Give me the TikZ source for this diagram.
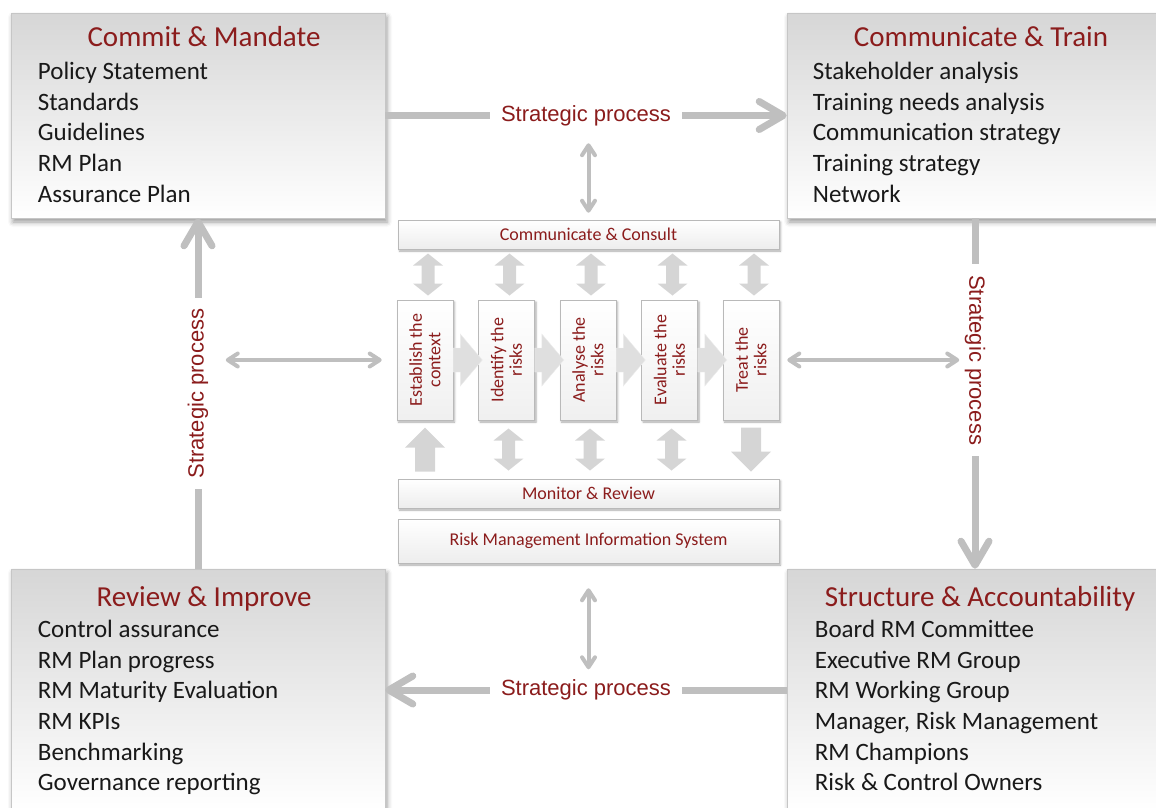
\documentclass[tikz,border=0pt]{standalone}
\usepackage{fontspec}
\setmainfont{Carlito}
\newfontfamily\arialfont{Liberation Sans}
\usetikzlibrary{arrows.meta,calc,shadows.blur}
\definecolor{rmred}{HTML}{8B1C1C}
\tikzset{
  corner/.style={draw=gray!45, line width=0.6pt, top color=gray!32, bottom color=white, inner sep=0pt,
    blur shadow={shadow xshift=2pt, shadow yshift=-4pt, shadow blur radius=5pt, shadow opacity=40}},
  title/.style={anchor=base, text=rmred, font=\fontsize{29}{34}\selectfont},
  item/.style={anchor=base west, inner sep=0pt, text=black!90, font=\fontsize{25}{30}\selectfont},
  bar/.style={draw=gray!55, line width=0.6pt, top color=white, bottom color=gray!14, minimum width=381pt,
    text=rmred, font=\fontsize{18}{20}\selectfont,
    blur shadow={shadow xshift=1.5pt, shadow yshift=-2pt, shadow blur radius=2pt, shadow opacity=35}},
  pbox/.style={draw=gray!55, line width=0.6pt, top color=white, bottom color=gray!12, minimum width=56pt, minimum height=120pt,
    blur shadow={shadow xshift=1.5pt, shadow yshift=-2pt, shadow blur radius=2pt, shadow opacity=35}},
  ptext/.style={text=rmred, align=center, font=\fontsize{18}{18.5}\selectfont},
  chev/.style={fill=gray!25, draw=gray!15},
  blockarr/.style={fill=gray!33},
  sp/.style={font=\arialfont\fontsize{22}{26}\selectfont, text=rmred, fill=white, inner xsep=11pt, inner ysep=1pt},
  strat/.style={draw=gray!50, line width=7pt, -{Straight Barb[length=24pt,width=28pt,round]}},
  thinarr/.style={draw=gray!50, line width=4pt, {Straight Barb[length=10pt,width=13pt,round]}-{Straight Barb[length=10pt,width=13pt,round]}},
  updown/.pic={\fill[blockarr] (0,-21) -- (15,-9) -- (6.5,-9) -- (6.5,9) -- (15,9) -- (0,21) -- (-15,9) -- (-6.5,9) -- (-6.5,-9) -- (-15,-9) -- cycle;},
  uparr/.pic={\fill[blockarr] (0,-22) -- (20,-2) -- (10,-2) -- (10,22) -- (-10,22) -- (-10,-2) -- (-20,-2) -- cycle;},
  downarr/.pic={\fill[blockarr] (0,22) -- (20,2) -- (10,2) -- (10,-22) -- (-10,-22) -- (-10,2) -- (-20,2) -- cycle;}
}
\begin{document}
\begin{tikzpicture}[x=1pt, y=-1pt]
  \useasboundingbox (0,0) rectangle (1156,807);

  \node[corner, minimum width=374pt, minimum height=205pt] (cm) at (198,115.5) {};
  \node[title] (cmt) at ($(cm.north)+(6,34)$) {Commit \& Mandate};
  \foreach \t [count=\i] in {Policy Statement, Standards, Guidelines, RM Plan, Assurance Plan}
    \node[item] (cm\i) at ($(cm.north west)+(27,{36+30.7*\i})$) {\t};

  \node[corner, minimum width=376pt, minimum height=205pt] (ct) at (975,115.5) {};
  \node[title] (ctt) at ($(ct.north)+(6,34)$) {Communicate \& Train};
  \foreach \t [count=\i] in {Stakeholder analysis, Training needs analysis, Communication strategy, Training strategy, Network}
    \node[item] (ct\i) at ($(ct.north west)+(26,{36+30.7*\i})$) {\t};

  \node[corner, minimum width=376pt, minimum height=242pt] (sa) at (975,690) {};
  \node[title] (sat) at ($(sa.north)+(5,38)$) {Structure \& Accountability};
  \foreach \t [count=\i] in {Board RM Committee, Executive RM Group, RM Working Group, {Manager, Risk Management}, RM Champions, Risk \& Control Owners}
    \node[item] (sa\i) at ($(sa.north west)+(28,{38+30.7*\i})$) {\t};

  \node[corner, minimum width=374pt, minimum height=242pt] (ri) at (198,690) {};
  \node[title] (rit) at ($(ri.north)+(6,38)$) {Review \& Improve};
  \foreach \t [count=\i] in {Control assurance, RM Plan progress, RM Maturity Evaluation, RM KPIs, Benchmarking, Governance reporting}
    \node[item] (ri\i) at ($(ri.north west)+(27,{38+30.7*\i})$) {\t};

  \node[bar, minimum height=29pt] (cc) at (588.5,234.5) {Communicate \& Consult};
  \node[bar, minimum height=29pt] (mr) at (588.5,493.5) {Monitor \& Review};
  \node[bar, minimum height=44pt] (rmis) at (588.5,541) {Risk Management Information System};

  \foreach \t [count=\i] in {{Establish the\\context},{Identify the\\risks},{Analyse the\\risks},{Evaluate the\\risks},{Treat the\\risks}} {
    \node[pbox] (p\i) at ({343.5+81.5*\i},360) {};
    \node[ptext, rotate=90] (t\i) at (p\i) {\t};
  }
  \foreach \i in {1,...,4}
    \fill[chev] (p\i.east) ++(0,-12) -- ++(7,0) -- ++(0,-14) -- ++(22,26) -- ++(-22,26) -- ++(0,-14) -- ++(-7,0) -- cycle;

  \foreach \i in {1,...,5}
    \pic at ($(p\i.north)!.5!(p\i.north |- cc.south)+(3,0)$) {updown};
  \foreach \i in {2,3,4}
    \pic at ($(p\i.south)!.5!(p\i.south |- mr.north)+(2,0)$) {updown};
  \pic at ($(p1.south)!.5!(p1.south |- mr.north)$) {uparr};
  \pic at ($(p5.south)!.5!(p5.south |- mr.north)$) {downarr};

  \draw[strat] (cm.east) -- node[sp] (sptop) {Strategic process} (ct.west);
  \draw[strat] (ct.south) -- node[sp, rotate=-90, pos=.405] (spright) {Strategic process} (sa.north);
  \draw[strat] (sa.west) -- node[sp] (spbot) {Strategic process} (ri.east);
  \draw[strat] (ri.north) -- node[sp, rotate=90] (spleft) {Strategic process} (cm.south);

  \draw[thinarr, shorten <=13pt, shorten >=7pt] (cc.north |- sptop.south) -- (cc.north);
  \draw[thinarr, shorten <=25pt, shorten >=6pt] (rmis.south) -- (rmis.south |- spbot.north);
  \draw[thinarr, shorten <=13pt, shorten >=15pt] (spleft.south |- p1.west) -- (p1.west);
  \draw[thinarr, shorten <=8pt, shorten >=1pt] (p5.east) -- (spright.south |- p5.east);
\end{tikzpicture}
\end{document}
